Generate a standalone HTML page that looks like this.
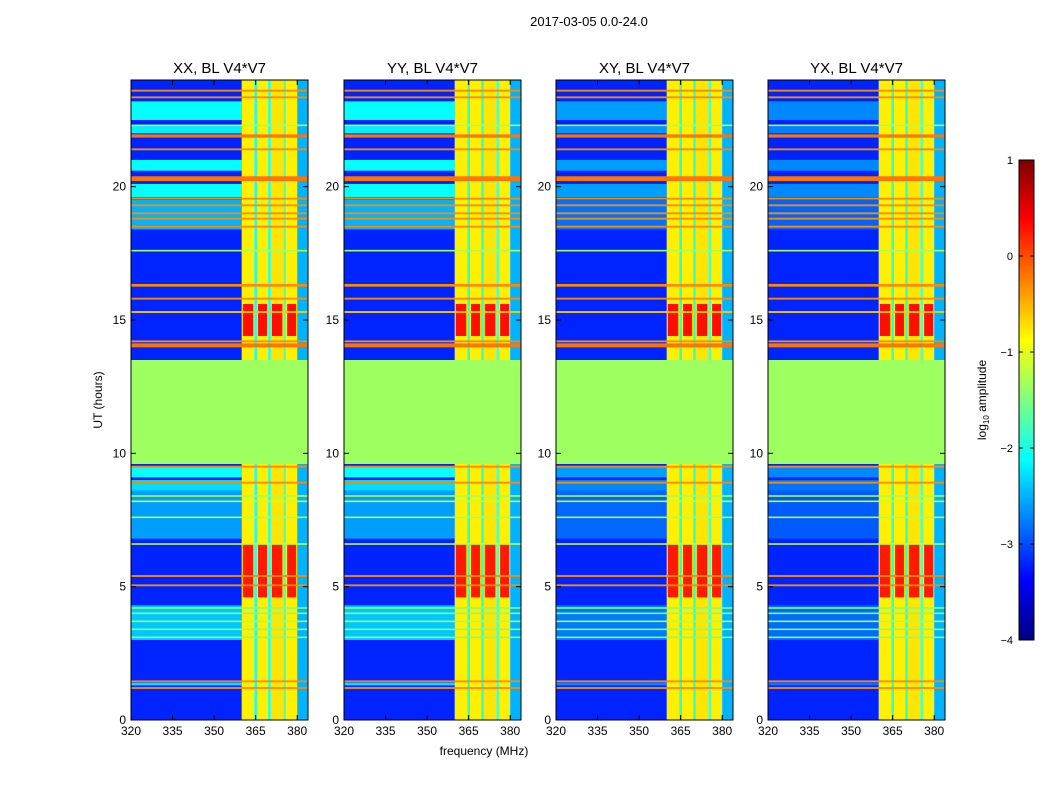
<!DOCTYPE html>
<html><head><meta charset="utf-8"><style>
body{margin:0;background:#fff;}
svg text{font-family:"Liberation Sans",sans-serif;}
</style></head><body>
<svg id="fig" width="1050" height="800" viewBox="0 0 1050 800" xmlns="http://www.w3.org/2000/svg">
<rect width="1050" height="800" fill="#fff"/>
<text x="589" y="26" font-size="13" text-anchor="middle">2017-03-05 0.0-24.0</text>
<text x="484" y="755" font-size="12" text-anchor="middle">frequency (MHz)</text>
<text transform="translate(102,400) rotate(-90)" font-size="12" text-anchor="middle">UT (hours)</text>
<g id="panels"></g>
<defs><linearGradient id="jet" x1="0" y1="1" x2="0" y2="0">
<stop offset="0" stop-color="#00007f"/><stop offset="0.125" stop-color="#0000ff"/>
<stop offset="0.375" stop-color="#00ffff"/><stop offset="0.5" stop-color="#7fff7f"/>
<stop offset="0.625" stop-color="#ffff00"/><stop offset="0.875" stop-color="#ff0000"/><stop offset="1" stop-color="#7f0000"/>
</linearGradient></defs>
<rect x="1019" y="160" width="15" height="480" fill="url(#jet)" stroke="#000" stroke-width="1"/>
<g id="cbticks"></g>
<text transform="translate(986,400) rotate(-90)" font-size="12" text-anchor="middle">log<tspan font-size="8" dy="3">10</tspan><tspan dy="-3"> amplitude</tspan></text>
</svg>
<script>
const panelTitles=["XX, BL V4*V7","YY, BL V4*V7","XY, BL V4*V7","YX, BL V4*V7"];
const panelLefts=[131,344,556,768];
const panelCyan=[1,1,0.55,0.45];
const xTicks=[320,335,350,365,380];
const yTicks=[0,5,10,15,20];
const cbTicks=[1,0,-1,-2,-3,-4];
const bgLevel=-3.2;
const bandStart=[1.3,3.0,6.8,8.6,9.1,18.4,19.6,20.6,22.0,22.5];
const bandEnd=[1.4,4.3,8.6,9.0,9.5,19.5,20.1,21.0,22.3,23.2];
const bandLevel=[-2.3,-2.4,-2.6,-2.3,-2.1,-2.5,-2.1,-2.1,-2.2,-2.1];
const flagStart=9.6, flagEnd=13.5, flagLevel=-1.35;
const colStart=[320,360,364.5,365.5,369.5,370.5,375,376,380];
const colEnd=[360,364.5,365.5,369.5,370.5,375,376,380,384];
const colLevel=[null,-0.8,-1.9,-0.8,-1.9,-0.75,-1.7,-0.8,-2.5];
const hotStart=[4.6,14.4];
const hotEnd=[6.6,15.6];
const hotLevel=[0.25,0.3];
const lineHours=[1.2,1.45,3.1,3.4,3.7,4.0,4.2,5.05,5.4,6.6,7.6,8.2,8.4,8.9,9.5,9.65,14.05,14.2,15.3,15.8,16.3,17.6,18.5,18.8,19.0,19.3,19.55,20.3,21.4,21.9,22.3,23.35,23.6];
const lineLevels=[-0.3,-0.3,-1.5,-1.5,-1.3,-1.5,-1.5,-0.3,-0.3,-1.2,-1.3,-1.2,-1.3,-0.3,-0.3,-0.3,-0.2,-0.3,-0.6,-0.3,-0.3,-1.3,-0.3,-0.3,-0.3,-0.3,-0.3,-0.2,-0.3,-0.2,-1.3,-0.3,-0.3];
const lineDur=[0.07,0.07,0.06,0.06,0.06,0.06,0.06,0.07,0.07,0.06,0.06,0.06,0.06,0.07,0.07,0.07,0.15,0.07,0.07,0.07,0.1,0.06,0.07,0.07,0.07,0.07,0.07,0.18,0.07,0.12,0.06,0.07,0.07];

const NS="http://www.w3.org/2000/svg";
const TOP=80,BOT=720,PW=177;
function yS(h){return BOT-h*(BOT-TOP)/24;}
function xS(left,f){return left+(f-320)*2.77;}
function jet(v){let t=(v+4)/5;t=Math.max(0,Math.min(1,t));
 const r=Math.min(1,Math.max(0,1.5-Math.abs(4*t-3))),g=Math.min(1,Math.max(0,1.5-Math.abs(4*t-2))),b=Math.min(1,Math.max(0,1.5-Math.abs(4*t-1)));
 return `rgb(${Math.round(r*255)},${Math.round(g*255)},${Math.round(b*255)})`;}
function mk(tag,attrs,parent){const e=document.createElementNS(NS,tag);for(const k in attrs)e.setAttribute(k,attrs[k]);parent.appendChild(e);return e;}
const root=document.getElementById('panels');
panelLefts.forEach((L,p)=>{
 const g=mk('g',{},root);
 
 
 const hm=mk('g',{},g);
 
 
 colStart.forEach((cs,c)=>{
  const x0=xS(L,cs),x1=xS(L,colEnd[c]);
  const base=colLevel[c]===null?bgLevel:colLevel[c];
  let r=mk('rect',{x:x0,y:TOP,width:x1-x0,height:BOT-TOP,fill:jet(base)},hm);
  
  
  if(colLevel[c]===null){
   bandStart.forEach((bs,b)=>{
    const v=bgLevel+(bandLevel[b]-bgLevel)*panelCyan[p];
    let rr=mk('rect',{x:x0,y:yS(bandEnd[b]),width:x1-x0,height:yS(bs)-yS(bandEnd[b]),fill:jet(v)},hm);
    
    
   });
  } else if(colLevel[c]>-1.0){
   hotStart.forEach((hs,k)=>{
    let rr=mk('rect',{x:x0+1,y:yS(hotEnd[k]),width:x1-x0-2,height:yS(hs)-yS(hotEnd[k]),fill:jet(hotLevel[k])},hm);
    
    
   });
  }
 });
 lineHours.forEach((h,i)=>{
  let rr=mk('rect',{x:L,y:yS(h+lineDur[i]/2),width:PW,height:Math.max(1.5,yS(h-lineDur[i]/2)-yS(h+lineDur[i]/2)),fill:jet(lineLevels[i])},hm);
  
  
 });
 let fr=mk('rect',{x:L,y:yS(flagEnd),width:PW,height:yS(flagStart)-yS(flagEnd),fill:jet(flagLevel)},hm);
 
 
 let fb=mk('rect',{x:L,y:TOP,width:PW,height:BOT-TOP,fill:'none',stroke:'#000','stroke-width':1},g);
 
 
 let t=mk('text',{x:L+PW/2,y:TOP-7,'font-size':15,'text-anchor':'middle'},g);
 t.textContent=panelTitles[p];
 
 
 xTicks.forEach(f=>{
  const x=xS(L,f);
  mk('line',{x1:x,x2:x,y1:BOT,y2:BOT-5,stroke:'#000'},g);
  mk('line',{x1:x,x2:x,y1:TOP,y2:TOP+5,stroke:'#000'},g);
  let tx=mk('text',{x:x,y:BOT+15,'font-size':12,'text-anchor':'middle'},g);
  tx.textContent=f;
  
  
 });
 yTicks.forEach(h=>{
  const y=yS(h);
  mk('line',{x1:L,x2:L+5,y1:y,y2:y,stroke:'#000'},g);
  mk('line',{x1:L+PW-5,x2:L+PW,y1:y,y2:y,stroke:'#000'},g);
  let ty=mk('text',{x:L-5,y:y+4,'font-size':12,'text-anchor':'end'},g);
  ty.textContent=h;
  
  
 });
});
const cb=document.getElementById('cbticks');
cbTicks.forEach(v=>{
 const y=640-(v+4)/5*480;
 mk('line',{x1:1019,x2:1023,y1:y,y2:y,stroke:'#000'},cb);
 mk('line',{x1:1030,x2:1034,y1:y,y2:y,stroke:'#000'},cb);
 let t=mk('text',{x:1013,y:y+4,'font-size':11,'text-anchor':'end'},cb);
 t.textContent=v<0?'\u2212'+(-v):String(v);
 
 
});
</script>
</body></html>
